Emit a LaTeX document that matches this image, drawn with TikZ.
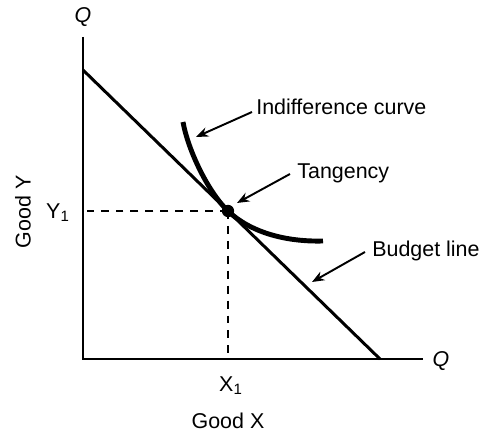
\documentclass[tikz,border=0pt]{standalone}
\usepackage{fontspec}
\setmainfont{Liberation Sans}
\usetikzlibrary{arrows.meta,positioning,calc}

\begin{document}
\begin{tikzpicture}[
  x=0.02cm, y=-0.02cm,
  font=\fontsize{12.2}{14}\selectfont,
  axis/.style={line width=1.5pt},
  budget/.style={line width=1.7pt},
  icurve/.style={line width=2.8pt},
  guide/.style={line width=1.3pt, dash pattern=on 4.5pt off 4pt},
  lbl/.style={inner sep=0pt, anchor=west},
  arrow/.style={-{Stealth[length=7pt,width=5.5pt]}, line width=1.1pt},
  dot/.style={circle, fill, inner sep=0pt, minimum size=7pt},
]
\useasboundingbox (0,0) rectangle (481,435);

% axes and budget line
\coordinate (O) at (83,359);
\coordinate (ytop) at (83,37);
\coordinate (xend) at (423,359);
\coordinate (bA) at (83,70);
\coordinate (bB) at (380,359);
\coordinate (T) at (228,211);

\draw[axis] (ytop) -- (O) -- (xend);
\node (qy) at (83,17) {\itshape Q};
\node (qx) at (441,361) {\itshape Q};

\draw[budget] (bA) -- (bB);
\draw[icurve] (183,122) .. controls (188,150) and (208,192) .. (T)
  .. controls (250,232) and (285,242) .. (323,241);

\draw[guide] (T) -- ($(O |- T)+(4,0)$);
\draw[guide] (T) -- (T |- O);
\node[dot] (tan) at (T) {};

% axis labels
\node (y1) at (58,213) {Y\textsubscript{1}};
\node (x1) at (231,386) {X\textsubscript{1}};
\node[rotate=90] (goody) at (23,212) {Good Y};
\node (goodx) at (228,421) {Good X};

% callouts
\node[lbl] (iclbl) at (256,107) {Indifference curve};
\node[lbl] (tglbl) at (297,173) {Tangency};
\node[lbl] (bllbl) at (372,251) {Budget line};

\coordinate (ichead) at (196,137);
\coordinate (tghead) at (237,203);
\coordinate (blhead) at (312,282);

\draw[arrow] ([shift={(-4,5)}]iclbl.west) -- (ichead);
\draw[arrow] ([shift={(-7,1)}]tglbl.west) -- (tghead);
\draw[arrow] ([shift={(-7,1)}]bllbl.west) -- (blhead);

\end{tikzpicture}
\end{document}
